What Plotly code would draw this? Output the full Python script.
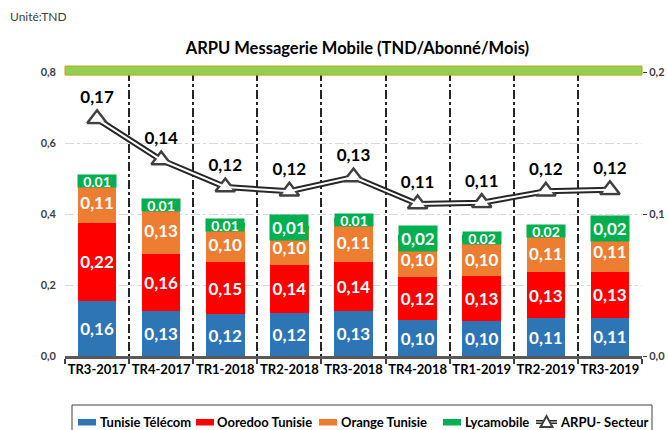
import numpy as np
import plotly.graph_objects as go

categories = ["TR3-2017", "TR4-2017", "TR1-2018", "TR2-2018", "TR3-2018",
              "TR4-2018", "TR1-2019", "TR2-2019", "TR3-2019"]
tunisie_telecom = [0.156, 0.126, 0.118, 0.121, 0.126, 0.101, 0.098, 0.106, 0.108]
ooredoo = [0.218, 0.161, 0.146, 0.136, 0.138, 0.121, 0.126, 0.130, 0.130]
orange = [0.114, 0.134, 0.100, 0.100, 0.114, 0.100, 0.098, 0.106, 0.110]
lycamobile = [0.01, 0.01, 0.01, 0.01, 0.01, 0.02, 0.02, 0.02, 0.02]
arpu_secteur = [0.167, 0.138, 0.119, 0.116, 0.126, 0.107, 0.108, 0.116, 0.117]
# label box style for Lycamobile values (large box = full label)
lyca_big_box = [False, False, False, True, False, True, False, False, True]

FONT = "Lato"
BLUE, RED, ORANGE, GREEN = "#2E75B6", "#FF0000", "#ED7D31", "#00B050"
LINE_DARK = "#262626"

W, H = 668, 430
ML, MR, MT, MB = 65, 26, 72, 74
PW, PH = W - ML - MR, H - MT - MB


def px_x(px):
    return (px - ML) / PW


def px_y(py):
    return (H - MB - py) / PH


fig = go.Figure()


def add_bar(name, vals, color, show_text=True):
    fig.add_trace(go.Bar(
        x=categories, y=vals, name=name, marker=dict(color=color, line=dict(width=0)),
        texttemplate="%{y:.2f}" if show_text else None,
        textposition="inside" if show_text else "none",
        insidetextanchor="middle", constraintext="none", textangle=0,
        textfont=dict(family=FONT, size=17, color="white", weight="bold"),
        yaxis="y", showlegend=False,
    ))


add_bar("Tunisie Télécom", tunisie_telecom, BLUE)
add_bar("Ooredoo Tunisie", ooredoo, RED)
add_bar("Orange Tunisie", orange, ORANGE)
add_bar("Lycamobile", lycamobile, GREEN, show_text=False)

# ARPU line (double line look)
fig.add_trace(go.Scatter(
    x=categories, y=arpu_secteur, name="ARPU- Secteur", yaxis="y2",
    mode="lines+markers+text",
    line=dict(color=LINE_DARK, width=6),
    marker=dict(symbol="triangle-up", size=17, color="white",
                line=dict(color="#404040", width=2.5)),
    texttemplate="%{y:.2f}", textposition="top center",
    textfont=dict(family=FONT, size=17, color="black", weight="bold"),
    cliponaxis=False, showlegend=False,
))
fig.add_trace(go.Scatter(
    x=categories, y=arpu_secteur, yaxis="y2", mode="lines+markers",
    line=dict(color="white", width=2),
    marker=dict(symbol="triangle-up", size=11, color="white", line=dict(width=0)),
    showlegend=False, hoverinfo="skip",
))

# Lycamobile labels as filled boxes centred on the green segment
tops = np.array(tunisie_telecom) + np.array(ooredoo) + np.array(orange) + np.array(lycamobile)
centers = tops - np.array(lycamobile) / 2
for c, yc, v, big in zip(categories, centers, lycamobile, lyca_big_box):
    fig.add_annotation(
        x=c, y=yc, xref="x", yref="y", text=f"{v:.2f}".replace(".", ","),
        showarrow=False, bgcolor=GREEN, width=38, height=25 if big else 12,
        borderpad=0, font=dict(family=FONT, size=17 if big else 14, color="white", weight="bold"),
        valign="middle",
    )

fig.add_annotation(x=px_x(8), y=px_y(17), xref="paper", yref="paper", xanchor="left", yanchor="middle",
                   text="Unité:TND", showarrow=False, font=dict(family=FONT, size=12, color="#404040"))

# green band across the top of the plot
fig.add_shape(type="rect", xref="paper", yref="paper", x0=0, x1=1, y0=0.989, y1=1.021,
              fillcolor="#92D050", line=dict(color="#C8A020", width=1), layer="above")

# ---- legend (drawn manually to match the compact single-row layout) ----
legend_names = ["Tunisie Télécom", "Ooredoo Tunisie", "Orange Tunisie", "Lycamobile", "ARPU- Secteur"]
legend_colors = [BLUE, RED, ORANGE, GREEN, None]
swatch_x = [78, 196, 319, 443, 536]
text_x = [98, 215, 339, 463, 558]
leg_y = 422
fig.add_shape(type="rect", xref="paper", yref="paper", x0=px_x(72), x1=px_x(652),
              y0=px_y(445), y1=px_y(405), line=dict(color="#404040", width=1), fillcolor="white",
              layer="above")
for name, col, sx, tx in zip(legend_names, legend_colors, swatch_x, text_x):
    if col is not None:
        fig.add_shape(type="rect", xref="paper", yref="paper", x0=px_x(sx), x1=px_x(sx + 18),
                      y0=px_y(leg_y + 3.5), y1=px_y(leg_y - 3), fillcolor=col, line=dict(width=0),
                      layer="above")
    else:
        fig.add_shape(type="line", xref="paper", yref="paper", x0=px_x(sx), x1=px_x(sx + 21),
                      y0=px_y(leg_y), y1=px_y(leg_y), line=dict(color=LINE_DARK, width=4), layer="above")
        fig.add_shape(type="line", xref="paper", yref="paper", x0=px_x(sx), x1=px_x(sx + 21),
                      y0=px_y(leg_y), y1=px_y(leg_y), line=dict(color="white", width=1), layer="above")
        cx = sx + 10.5
        fig.add_shape(type="path", xref="paper", yref="paper",
                      path=f"M {px_x(cx - 6)},{px_y(leg_y + 5)} L {px_x(cx + 6)},{px_y(leg_y + 5)} "
                           f"L {px_x(cx)},{px_y(leg_y - 6)} Z",
                      fillcolor="white", line=dict(color="#404040", width=2), layer="above")
    fig.add_annotation(x=px_x(tx), y=px_y(leg_y), xref="paper", yref="paper", xanchor="left",
                       yanchor="middle", text=name, showarrow=False,
                       font=dict(family=FONT, size=13, color="black", weight="bold"))

fig.update_layout(
    width=W, height=H,
    margin=dict(l=ML, r=MR, t=MT, b=MB, autoexpand=False),
    paper_bgcolor="white", plot_bgcolor="white",
    barmode="stack", bargap=0.4,
    separators=", ",
    showlegend=False,
    title=dict(text="<b>ARPU Messagerie Mobile (TND/Abonné/Mois)</b>", x=0.535, xanchor="center",
               y=0.888, yanchor="middle", font=dict(family=FONT, size=16.5, color="black")),
    font=dict(family=FONT, color="#404040"),
    xaxis=dict(
        tickson="boundaries", showgrid=True, griddash="dashdot", gridcolor="#262626", gridwidth=1.5,
        ticks="outside", ticklen=5, tickcolor="#404040", tickwidth=2, tickangle=0,
        showline=True, linecolor="#595959", linewidth=2.5,
        tickfont=dict(family=FONT, size=13, color="black", weight="bold"),
        range=[-0.5, 8.5],
    ),
    yaxis=dict(
        range=[0, 0.8], tickvals=[0, 0.2, 0.4, 0.6, 0.8], tickformat=".1f",
        showgrid=True, gridcolor="#d9d9d9", griddash="dashdot", gridwidth=1,
        zeroline=False, showline=False,
        tickfont=dict(family=FONT, size=11, color="#404040", weight="bold"),
        ticks="", ticklabelstandoff=8,
    ),
    yaxis2=dict(
        range=[0, 0.2], tickvals=[0, 0.1, 0.2], tickformat=".1f", overlaying="y", side="right",
        showgrid=False, zeroline=False, showline=False,
        ticks="outside", ticklen=4, tickcolor="#404040",
        tickfont=dict(family=FONT, size=11, color="#404040", weight="bold"),
    ),
)

fig.write_html("out.html", config={"displayModeBar": False},
               post_script="document.body.style.margin='0';document.body.style.overflow='hidden';")
